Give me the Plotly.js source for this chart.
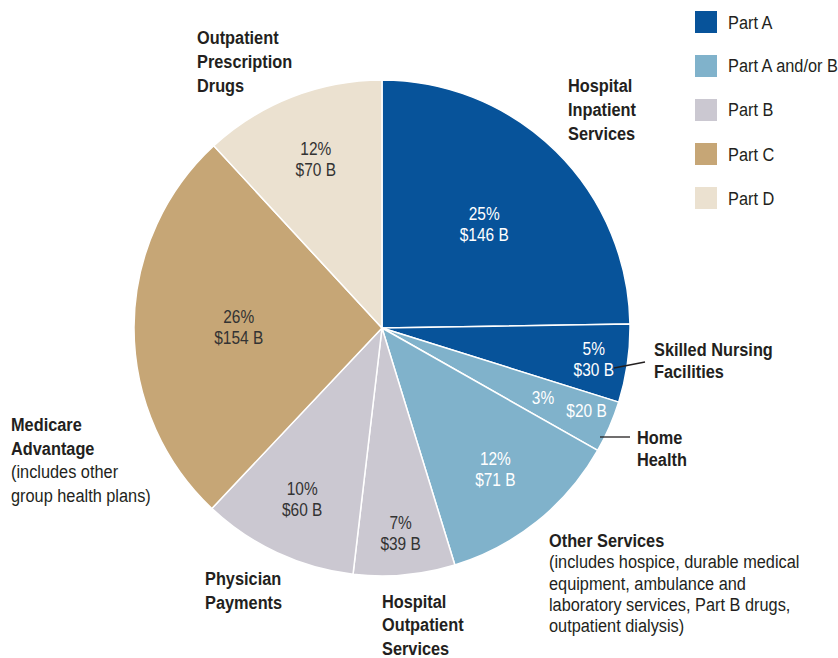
<!DOCTYPE html>
<html><head><meta charset="utf-8">
<script src="https://cdn.plot.ly/plotly-3.0.1.min.js"></script>
<style>html,body{margin:0;padding:0;background:#fff}#chart{width:838px;height:658px}</style>
</head><body><div id="chart"></div>
<script>
const categories = ["Hospital Inpatient Services","Skilled Nursing Facilities","Home Health","Other Services","Hospital Outpatient Services","Physician Payments","Medicare Advantage","Outpatient Prescription Drugs"];
const spending = [146, 30, 20, 71, 39, 60, 154, 70];
const percents = [25, 5, 3, 12, 7, 10, 26, 12];
const parts = ["Part A","Part A","Part A and/or B","Part A and/or B","Part B","Part B","Part C","Part D"];
const partNames = ["Part A","Part A and/or B","Part B","Part C","Part D"];
const partColors = {"Part A":"#07539a","Part A and/or B":"#80b2cb","Part B":"#cbc8d1","Part C":"#c6a676","Part D":"#ebe1d0"};
const textColors = {"Part A":"#ffffff","Part A and/or B":"#ffffff","Part B":"#333333","Part C":"#333333","Part D":"#333333"};

const FONT = '"Liberation Sans",Arial,sans-serif';
const SX = 0.86;
const HOME = 2; // slice whose label sits astride the slice edge
const sliceText = spending.map((v,i)=> percents[i]+'%<br>$'+v+' B');

const trace = {
  type:'pie', values: spending, labels: categories, text: sliceText,
  sort:false, direction:'clockwise', rotation:0,
  marker:{colors: parts.map(p=>partColors[p]), line:{color:'#ffffff', width:1.5}},
  textinfo:'text', textposition: spending.map((v,i)=> i===HOME ? 'none' : 'inside'),
  insidetextorientation:'horizontal',
  textfont:{family:FONT, size:18, color: parts.map(p=>textColors[p])},
  hoverinfo:'label+value', showlegend:false,
  domain:{x:[134/838, 630/838], y:[(658-576)/658, (658-80)/658]}
};

const annotations = [];
const lineHeights = [];
const shapes = [];
function lab(x,yc,txt,lh){
  annotations.push({x:x/838,y:1-(yc-13.5)/658,xref:'paper',yref:'paper',xanchor:'left',yanchor:'top',align:'left',showarrow:false,text:txt,font:{family:FONT,size:19,color:'#231f20'}});
  lineHeights[annotations.length-1] = lh;
}
lab(566,87,'<b>Hospital</b><br><b>Inpatient</b><br><b>Services</b>',24);
lab(652,350,'<b>Skilled Nursing</b><br><b>Facilities</b>',22.5);
lab(635,438,'<b>Home</b><br><b>Health</b>',22.5);
lab(547,541,'<b>Other Services</b><br>(includes hospice, durable medical<br>equipment, ambulance and<br>laboratory services, Part B drugs,<br>outpatient dialysis)',21.3);
lab(380,602,'<b>Hospital</b><br><b>Outpatient</b><br><b>Services</b>',23.5);
lab(203,579,'<b>Physician</b><br><b>Payments</b>',24);
lab(9,425,'<b>Medicare</b><br><b>Advantage</b><br>(includes other<br>group health plans)',23.7);
lab(195,38,'<b>Outpatient</b><br><b>Prescription</b><br><b>Drugs</b>',24);

// Home Health value label split across the slice
annotations.push({x:543/838,y:1-398/658,xref:'paper',yref:'paper',xanchor:'center',yanchor:'middle',showarrow:false,text:percents[HOME]+'%',font:{family:FONT,size:18,color:textColors[parts[HOME]]}});
annotations.push({x:586/838,y:1-411/658,xref:'paper',yref:'paper',xanchor:'center',yanchor:'middle',showarrow:false,text:'$'+spending[HOME]+' B',font:{family:FONT,size:18,color:textColors[parts[HOME]]}});

function line(x0,y0,x1,y1){shapes.push({type:'line',xref:'paper',yref:'paper',x0:x0/838,y0:1-y0/658,x1:x1/838,y1:1-y1/658,line:{color:'#231f20',width:1.3}});}
line(614,368,645,362);
line(600,437,630,437);

partNames.forEach((p,i)=>{
  const cy = 22 + i*44;
  shapes.push({type:'rect',xref:'paper',yref:'paper',x0:695/838,x1:717/838,y0:1-(cy+11)/658,y1:1-(cy-11)/658,fillcolor:partColors[p],line:{width:0}});
  annotations.push({x:726/838,y:1-cy/658,xref:'paper',yref:'paper',xanchor:'left',yanchor:'middle',showarrow:false,text:p,font:{family:FONT,size:19,color:'#231f20'}});
});

const layout = {
  width:838,height:658,margin:{l:0,r:0,t:0,b:0},
  paper_bgcolor:'#ffffff',showlegend:false,
  annotations:annotations,shapes:shapes
};

function tighten(textEl, lhPx){
  textEl.querySelectorAll('tspan.line').forEach(ts=>{
    const dy = ts.getAttribute('dy') || '';
    const m = dy.match(/^(-?[\d.]+)em$/);
    if(m){ const n = parseFloat(m[1])/1.3; if(n) ts.setAttribute('dy', (n*lhPx)+'px'); }
  });
}

Plotly.newPlot('chart',[trace],layout,{displayModeBar:false,staticPlot:true}).then(gd=>{
  // condense text horizontally to mimic the narrow typeface of the original
  gd.querySelectorAll('g.annotation').forEach(g=>{
    const idx = +g.getAttribute('data-index');
    const a = layout.annotations[idx];
    const t = g.querySelector('text.annotation-text');
    if(!t) return;
    if(lineHeights[idx]) tighten(t, lineHeights[idx]);
    t.style.transformBox = 'fill-box';
    t.style.transformOrigin = a.xanchor==='center' ? '50% 50%' : '0% 50%';
    t.style.transform = 'scaleX('+SX+')';
  });
  gd.querySelectorAll('g.slicetext text').forEach(t=>{
    tighten(t, 21);
    const tr = t.getAttribute('transform') || '';
    t.setAttribute('transform', tr + ' translate(0,1.8) scale('+SX+',1)');
  });
});
</script></body></html>
